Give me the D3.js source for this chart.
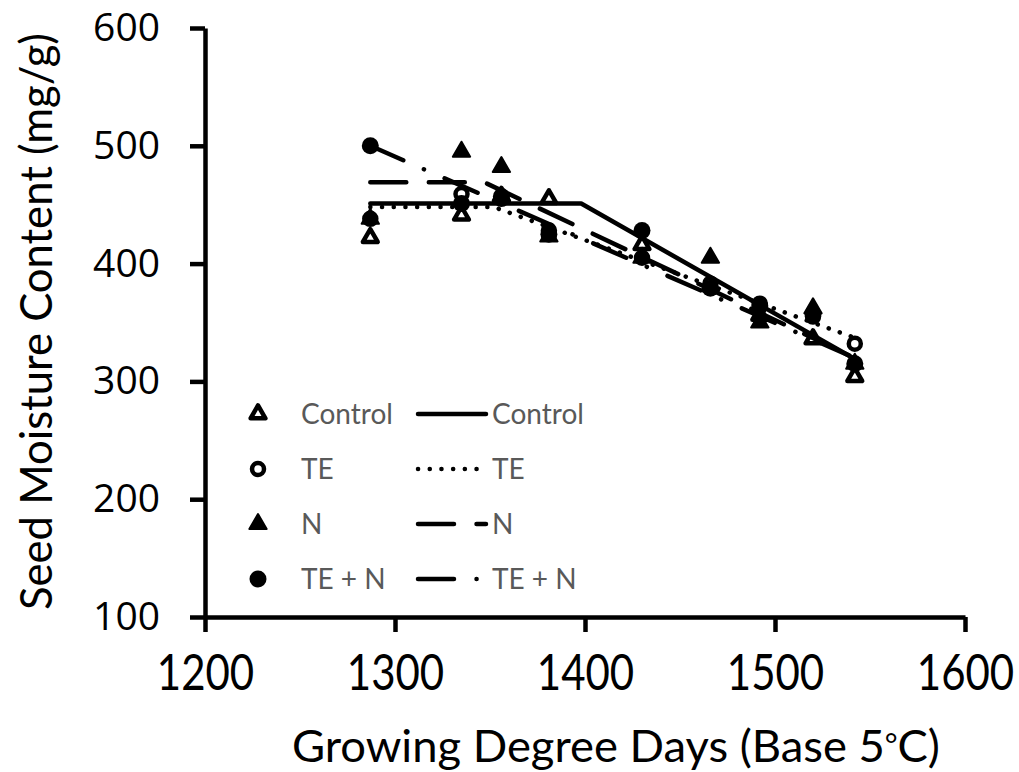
<!DOCTYPE html>
<html>
<head>
<meta charset="utf-8">
<script src="https://cdn.jsdelivr.net/npm/d3@7"></script>
<style>
	body { margin: 0; background: #fff; }
	svg { display: block; }
</style>
</head>
<body>
<div id="chart"></div>
<script>
// growing degree days of each sampling
const gdd = [1287, 1335, 1356, 1381, 1430, 1466, 1492, 1520, 1542]

// seed moisture content (mg/g) per treatment
const controlValues = [422, 441, 457, 455, 416, 381, 356, 336, 304]
const teValues = [438, 459, 455, 428, 405, 383, 366, 355, 332]
const nValues = [438, 495, 482, 423, 405, 405, 350, 362, 315]
const tenValues = [500, 451, 457, 425, 428, 379, 364, 357, 315]

// fitted lines (break points)
const controlFit = [[1287, 451], [1398, 451], [1542, 319]]
const teFit = [[1287, 448], [1352, 448], [1542, 337]]
const nFit = [[1287, 469], [1347, 469], [1542, 320]]
const tenFit = [[1287, 500], [1542, 320]]

const xTicks = [1200, 1300, 1400, 1500, 1600]
const yTicks = [100, 200, 300, 400, 500, 600]
const seriesNames = ["Control", "TE", "N", "TE + N"]

const width = 1019
const height = 772

const svg = d3.select("#chart").append("svg")
	.attr("width", width)
	.attr("height", height)

const x = d3.scaleLinear().domain([1200, 1600]).range([205, 965])
const y = d3.scaleLinear().domain([100, 600]).range([617, 28])

// axes
const yAxis = svg.append("g")
	.attr("transform", `translate(${x(1200)},0)`)
	.call(d3.axisLeft(y).tickValues(yTicks).tickSize(15).tickSizeOuter(0).tickPadding(30))
yAxis.select(".domain").attr("stroke", "#000").attr("stroke-width", 4.5)
yAxis.selectAll(".tick line").attr("stroke", "#000").attr("stroke-width", 4.5)
yAxis.selectAll(".tick text")
	.attr("font-family", "Open Sans")
	.attr("font-size", 39)
	.attr("fill", "#000")

const xAxis = svg.append("g")
	.attr("transform", `translate(0,${y(100)})`)
	.call(d3.axisBottom(x).tickValues(xTicks).tickFormat(d3.format("d")).tickSize(15).tickSizeOuter(0).tickPadding(22))
xAxis.select(".domain").attr("stroke", "#000").attr("stroke-width", 4.5)
xAxis.selectAll(".tick line").attr("stroke", "#000").attr("stroke-width", 4.5)
// narrow the labels so they look like the condensed original
xAxis.selectAll(".tick text")
	.attr("font-family", "Lato")
	.attr("font-size", 50)
	.attr("fill", "#000")
	.attr("dy", "0.72em")
	.attr("transform", "scale(0.84,1)")

// axis titles
svg.append("text")
	.attr("transform", `translate(52,${(y(100) + y(600)) / 2 - 1}) rotate(-90)`)
	.attr("text-anchor", "middle")
	.attr("font-family", "Lato")
	.attr("font-size", 44)
	.attr("textLength", 577)
	.attr("lengthAdjust", "spacingAndGlyphs")
	.text("Seed Moisture Content (mg/g)")

const xTitle = svg.append("text")
	.attr("x", 616)
	.attr("y", 762)
	.attr("text-anchor", "middle")
	.attr("font-family", "Lato")
	.attr("font-size", 44)
	.attr("textLength", 648)
	.attr("lengthAdjust", "spacingAndGlyphs")
xTitle.append("tspan").text("Growing Degree Days (Base 5")
xTitle.append("tspan").attr("font-size", 30).attr("dy", -6).text("\u00b0")
xTitle.append("tspan").attr("dy", 6).text("C)")

// marker drawing
const triangle = d3.symbol().type(d3.symbolTriangle)

function drawMarker(g, kind, cx, cy) {
	if (kind === "openTri") {
		g.append("path")
			.attr("d", triangle.size(95)())
			.attr("transform", `translate(${cx},${cy})`)
			.attr("fill", "#fff")
			.attr("stroke", "#000")
			.attr("stroke-width", 4.5)
			.attr("stroke-linejoin", "round")
	} else if (kind === "filledTri") {
		g.append("path")
			.attr("d", triangle.size(130)())
			.attr("transform", `translate(${cx},${cy})`)
			.attr("fill", "#000")
			.attr("stroke", "#000")
			.attr("stroke-width", 2)
			.attr("stroke-linejoin", "round")
	} else if (kind === "openCircle") {
		g.append("circle")
			.attr("cx", cx).attr("cy", cy).attr("r", 6)
			.attr("fill", "#fff")
			.attr("stroke", "#000")
			.attr("stroke-width", 4.5)
	} else {
		g.append("circle")
			.attr("cx", cx).attr("cy", cy).attr("r", 8.5)
			.attr("fill", "#000")
	}
}

const markerKinds = ["openTri", "openCircle", "filledTri", "filledCircle"]
const seriesValues = [controlValues, teValues, nValues, tenValues]
const seriesFits = [controlFit, teFit, nFit, tenFit]
const lineStyles = [
	{ dash: null, cap: "round" },
	{ dash: "0.1,11.6", cap: "round" },
	{ dash: "36,22.5", cap: "round" },
	{ dash: "36,22.5,0.1,22.5", cap: "round" }
]

const markers = svg.append("g")
seriesValues.forEach((vals, i) => {
	vals.forEach((v, j) => drawMarker(markers, markerKinds[i], x(gdd[j]), y(v)))
})

const line = d3.line().x(d => x(d[0])).y(d => y(d[1]))
const fits = svg.append("g")
seriesFits.forEach((pts, i) => {
	fits.append("path")
		.attr("d", line(pts))
		.attr("fill", "none")
		.attr("stroke", "#000")
		.attr("stroke-width", 4.5)
		.attr("stroke-linecap", lineStyles[i].cap)
		.attr("stroke-linejoin", "round")
		.attr("stroke-dasharray", lineStyles[i].dash)
})

// legend
const legendRows = [414, 469, 524, 579]
const legend = svg.append("g")
seriesNames.forEach((name, i) => {
	const ly = legendRows[i]
	drawMarker(legend, markerKinds[i], 258, ly)
	legend.append("text")
		.attr("x", 301)
		.attr("y", ly)
		.attr("dy", "0.36em")
		.attr("font-family", "Lato")
		.attr("font-size", 28)
		.attr("fill", "#595959")
		.text(name)
	legend.append("path")
		.attr("d", `M418,${ly}H486`)
		.attr("fill", "none")
		.attr("stroke", "#000")
		.attr("stroke-width", 4.5)
		.attr("stroke-linecap", lineStyles[i].cap)
		.attr("stroke-dasharray", lineStyles[i].dash)
	legend.append("text")
		.attr("x", 492)
		.attr("y", ly)
		.attr("dy", "0.36em")
		.attr("font-family", "Lato")
		.attr("font-size", 28)
		.attr("fill", "#595959")
		.text(name)
})
</script>
</body>
</html>
